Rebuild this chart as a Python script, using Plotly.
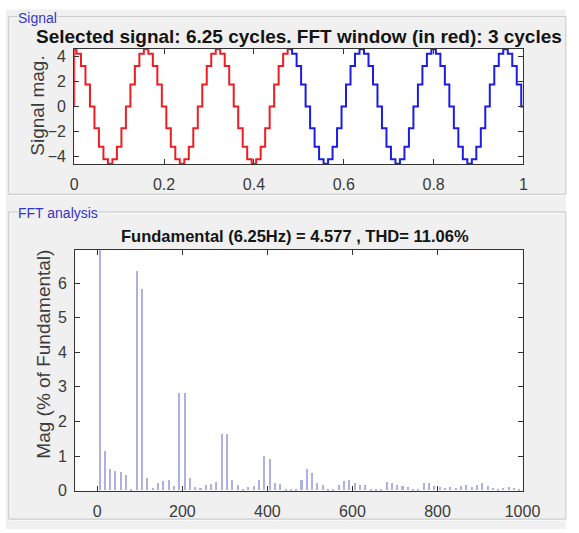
import plotly.graph_objects as go

W, H = 579, 533

# ---------------- data ----------------
# one cycle of the stepped (16-step) signal, levels
cycle_levels = [4.6, 4.25, 3.25, 1.76, 0.0, -1.76, -3.25, -4.25,
                -4.6, -4.25, -3.25, -1.76, 0.0, 1.76, 3.25, 4.25]
step_time = 0.01          # s per step
n_steps = 100             # 6.25 cycles over 1 s
fft_window_steps = 48     # 3 cycles (red part)
start_value = 0.0

# FFT: odd harmonic orders and magnitude (% of fundamental)
fund_hz = 6.25
harm_order = list(range(1, 161, 2))
harm_mag = [100, 1.14, 0.63, 0.55, 0.52, 0.44, 0.03, 6.35, 5.83, 0.36,
            0.08, 0.20, 0.26, 0.31, 0.12, 2.83, 2.83, 0.35, 0.10, 0.07,
            0.17, 0.19, 0.25, 1.63, 1.63, 0.31, 0.15, 0.03, 0.09, 0.12,
            0.31, 0.99, 0.92, 0.22, 0.19, 0.04, 0.04, 0.05, 0.30, 0.61,
            0.50, 0.20, 0.17, 0.03, 0.05, 0.17, 0.27, 0.31, 0.22, 0.17,
            0.17, 0.03, 0.04, 0.05, 0.25, 0.20, 0.17, 0.12, 0.10, 0.05,
            0.05, 0.20, 0.22, 0.12, 0.10, 0.08, 0.10, 0.08, 0.12, 0.15,
            0.10, 0.15, 0.22, 0.12, 0.08, 0.05, 0.08, 0.10, 0.08, 0.05]

title_top = "Selected signal: 6.25 cycles. FFT window (in red): 3 cycles"
title_bot = "Fundamental (6.25Hz) = 4.577 , THD= 11.06%"
ylabel_top = "Signal mag."
ylabel_bot = "Mag (% of Fundamental)"
xticks_top = [0, 0.2, 0.4, 0.6, 0.8, 1]
xtick_top_text = ["0", "0.2", "0.4", "0.6", "0.8", "1"]
yticks_top = [-4, -2, 0, 2, 4]
xticks_bot = [0, 200, 400, 600, 800, 1000]
yticks_bot = [0, 1, 2, 3, 4, 5, 6]

# ---------------- build series ----------------
t_all = [k * step_time for k in range(n_steps + 1)]
v_all = [cycle_levels[k % len(cycle_levels)] for k in range(n_steps + 1)]
t_red = [0.0] + t_all[:fft_window_steps + 1]
v_red = [start_value] + v_all[:fft_window_steps + 1]
t_blue = t_all[fft_window_steps:]
v_blue = v_all[fft_window_steps:]
freq = [h * fund_hz for h in harm_order]

def px(x):
    return x / W

def py(y):
    return 1 - y / H

FONT = "Liberation Sans, Arial, sans-serif"
AX = "#333333"
TICKC = "#3a3a3a"

fig = go.Figure()
fig.add_trace(go.Scatter(x=t_red, y=v_red, mode="lines", line=dict(color="#ec1e24", width=2, shape="hvh"),
                         xaxis="x", yaxis="y", showlegend=False, hoverinfo="skip"))
fig.add_trace(go.Scatter(x=t_blue, y=v_blue, mode="lines", line=dict(color="#1c1ce2", width=2, shape="hvh"),
                         xaxis="x", yaxis="y", showlegend=False, hoverinfo="skip"))
fig.add_trace(go.Bar(x=freq, y=harm_mag, width=3.6, marker=dict(color="#aeb0e2", line=dict(width=0)),
                     xaxis="x2", yaxis="y2", showlegend=False, hoverinfo="skip"))

axis_common = dict(showgrid=False, zeroline=False, showline=True, linecolor=AX, linewidth=1,
                   mirror="ticks", ticks="inside", ticklen=5, tickcolor=AX, tickwidth=1,
                   tickfont=dict(family=FONT, size=16, color=TICKC))

fig.update_layout(
    width=W, height=H, autosize=False,
    margin=dict(l=0, r=0, t=0, b=0),
    paper_bgcolor="white", plot_bgcolor="white",
    bargap=0,
    xaxis=dict(domain=[px(73), px(540)], range=[0, 1], tickvals=xticks_top, ticktext=xtick_top_text,
               anchor="y", ticklabelstandoff=6, **axis_common),
    yaxis=dict(domain=[py(166), py(49)], range=[-4.62, 4.62], tickvals=yticks_top,
               anchor="x", ticklabelstandoff=4, **axis_common),
    xaxis2=dict(domain=[px(74), px(539)], range=[-52, 1000], tickvals=xticks_bot,
                anchor="y2", ticklabelstandoff=6, **axis_common),
    yaxis2=dict(domain=[py(499), py(254)], range=[0, 6.95], tickvals=yticks_bot,
                anchor="x2", ticklabelstandoff=4, **axis_common),
)

shapes = []
# figure background
shapes.append(dict(type="rect", xref="paper", yref="paper", x0=px(2), x1=px(W + 5), y0=py(9), y1=py(H + 5),
                   fillcolor="#f0f0f0", line=dict(width=0), layer="below"))
# panels (etched borders)
for (y0, y1) in [(16, 197), (215, 528)]:
    shapes.append(dict(type="rect", xref="paper", yref="paper", x0=px(6), x1=px(W + 5), y0=py(y0 + 1), y1=py(y1 + 1),
                       line=dict(color="#ffffff", width=1), layer="below"))
    shapes.append(dict(type="rect", xref="paper", yref="paper", x0=px(5), x1=px(W + 5), y0=py(y0), y1=py(y1),
                       line=dict(color="#c4c4c4", width=1), layer="below"))
# plot area white backgrounds
shapes.append(dict(type="rect", xref="paper", yref="paper", x0=px(73), x1=px(540), y0=py(49), y1=py(166),
                   fillcolor="white", line=dict(width=0), layer="below"))
shapes.append(dict(type="rect", xref="paper", yref="paper", x0=px(74), x1=px(539), y0=py(254), y1=py(499),
                   fillcolor="white", line=dict(width=0), layer="below"))
fig.update_layout(shapes=shapes)

ann = []
ann.append(dict(text="Signal", x=px(13), y=py(17), xref="paper", yref="paper", xanchor="left", yanchor="middle",
                showarrow=False, font=dict(family=FONT, size=14, color="#3535c8"), bgcolor="#f0f0f0", borderpad=0))
ann.append(dict(text="FFT analysis", x=px(13), y=py(216), xref="paper", yref="paper", xanchor="left", yanchor="middle",
                showarrow=False, font=dict(family=FONT, size=14, color="#3535c8"), bgcolor="#f0f0f0", borderpad=0))
ann.append(dict(text="<b>" + title_top + "</b>", x=px(306.5), y=py(36), xref="paper", yref="paper",
                xanchor="center", yanchor="middle", showarrow=False,
                font=dict(family=FONT, size=19, color="#141414")))
ann.append(dict(text="<b>" + title_bot + "</b>", x=px(303), y=py(240), xref="paper", yref="paper",
                xanchor="center", yanchor="middle", showarrow=False,
                font=dict(family=FONT, size=16.5, color="#141414")))
ann.append(dict(text=ylabel_top, x=px(35), y=py(107), xref="paper", yref="paper", textangle=-90,
                xanchor="center", yanchor="middle", showarrow=False,
                font=dict(family=FONT, size=19, color="#3c3c3c")))
ann.append(dict(text=ylabel_bot, x=px(41), y=py(360), xref="paper", yref="paper", textangle=-90,
                xanchor="center", yanchor="middle", showarrow=False,
                font=dict(family=FONT, size=19, color="#3c3c3c")))
fig.update_layout(annotations=ann)

fig.write_html("out.html")
